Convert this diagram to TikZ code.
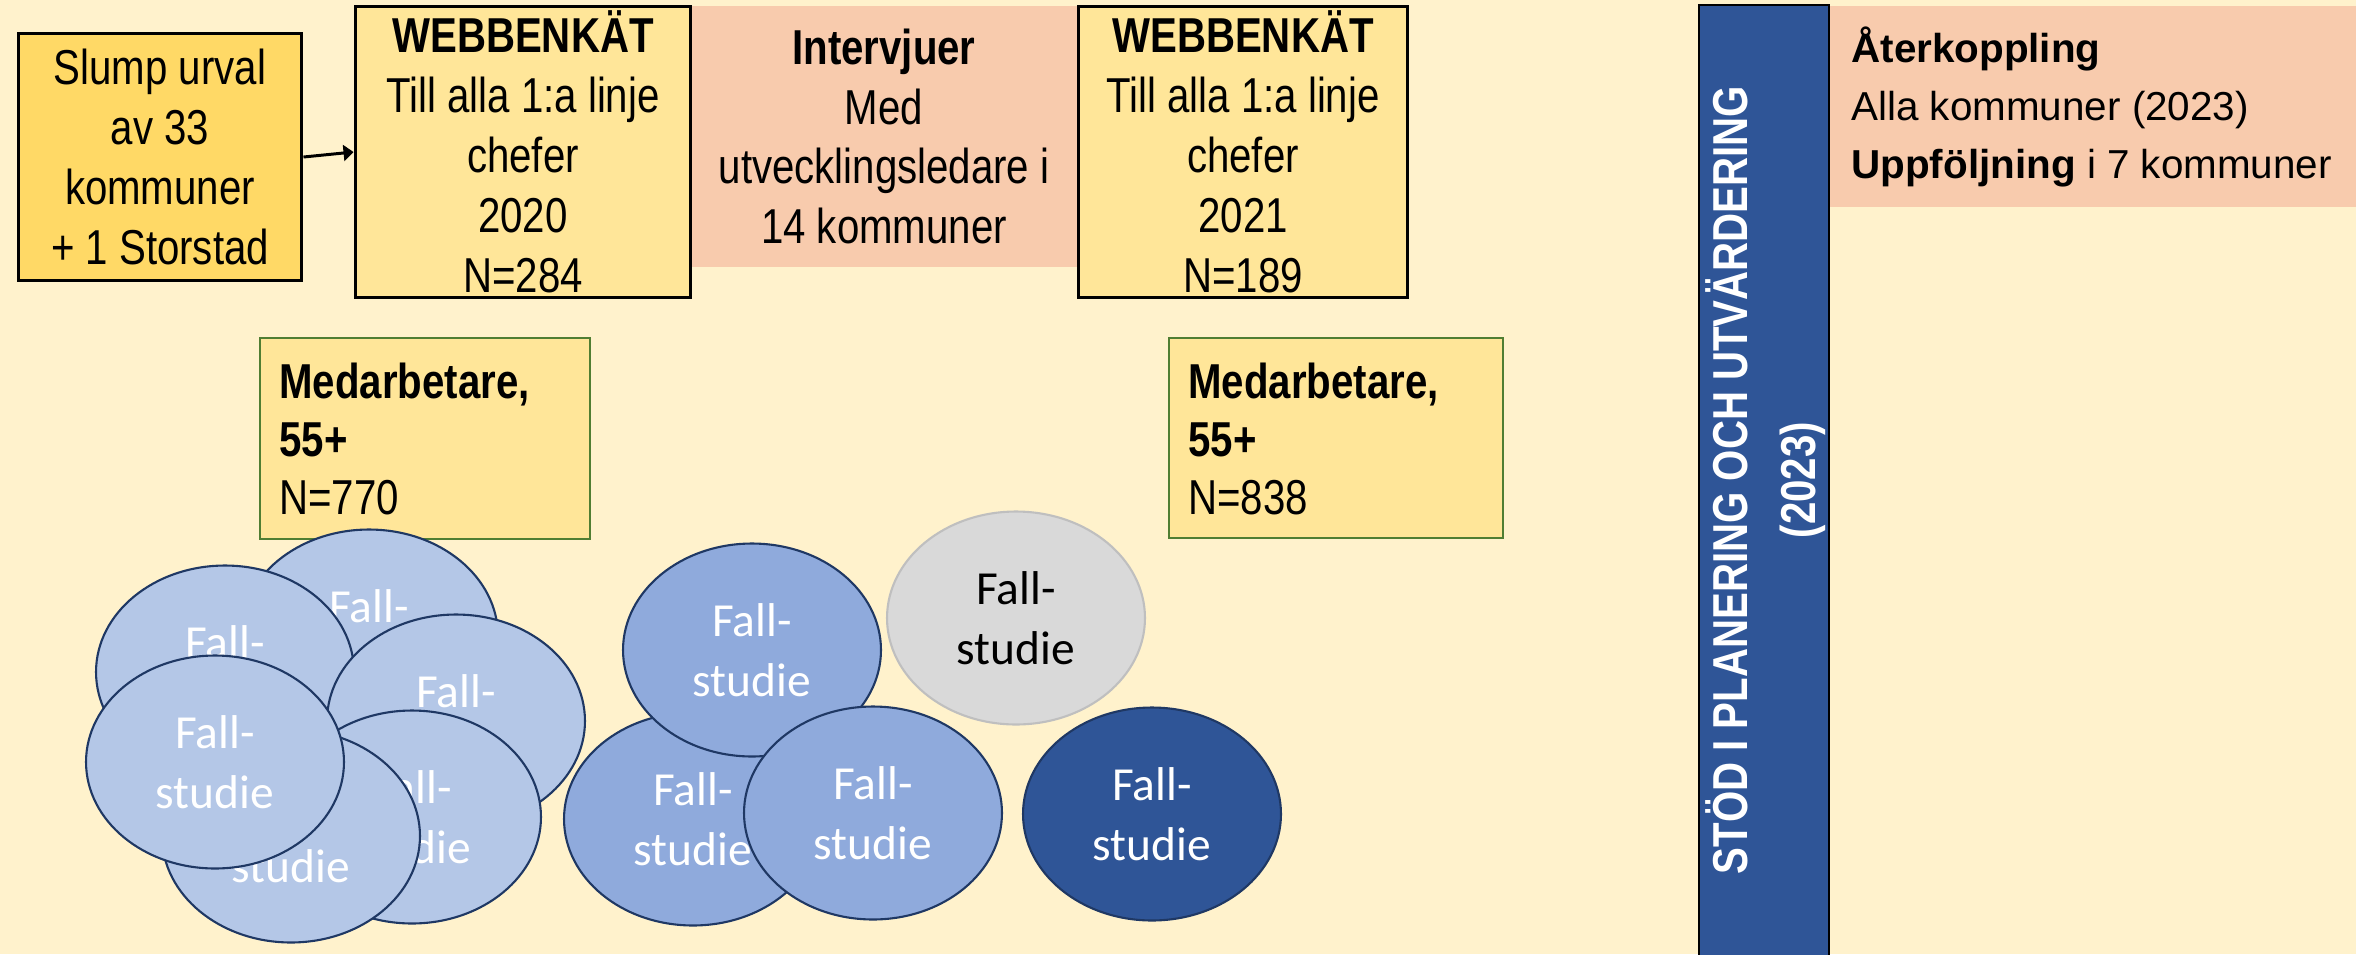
\documentclass[tikz,border=0pt]{standalone}
\usepackage{fontspec}
\setmainfont{Liberation Sans}
\newfontfamily\narrowfont[FakeStretch=0.82]{Liberation Sans}
\newfontfamily\calfont{Carlito}
\usetikzlibrary{shapes.geometric,arrows.meta}
\definecolor{bgyellow}{HTML}{FFF2CC}
\definecolor{gold}{HTML}{FFD966}
\definecolor{paleyellow}{HTML}{FFE699}
\definecolor{salmon}{HTML}{F8CBAD}
\definecolor{darkblue}{HTML}{2F5597}
\definecolor{lightblue}{HTML}{B4C7E7}
\definecolor{midblue}{HTML}{8FAADC}
\definecolor{navy}{HTML}{1F3864}
\definecolor{lightgray}{HTML}{D9D9D9}
\definecolor{midgray}{HTML}{BFBFBF}
\definecolor{olive}{HTML}{507E32}
\tikzset{
  boxtext/.style={font=\narrowfont\fontsize{27.9}{34.1}\selectfont, align=center, text=black},
  blackbox/.style={draw=black, line width=1.7pt, rectangle, inner sep=0pt, boxtext},
  salmonbox/.style={fill=salmon, draw=none, rectangle, inner sep=0pt},
  medbox/.style={fill=paleyellow, draw=olive, line width=1.1pt, rectangle, inner sep=0pt},
  medtext/.style={font=\narrowfont\fontsize{27.9}{33}\selectfont, align=left, anchor=north west, inner sep=0pt},
  fall/.style={ellipse, draw=navy, line width=1.2pt, minimum width=5.16cm, minimum height=4.26cm, inner sep=0pt,
     font=\calfont\fontsize{27}{34}\selectfont, align=center, text=white},
  fallL/.style={fall, fill=lightblue},
  fallM/.style={fall, fill=midblue},
  fallD/.style={fall, fill=darkblue},
  fallG/.style={fall, fill=lightgray, draw=midgray, text=black},
}
\begin{document}
\begin{tikzpicture}[x=0.02cm, y=-0.02cm]
\fill[bgyellow] (0,0) rectangle (2356,954);
\useasboundingbox (0,0) rectangle (2356,954);

% top row
\node[salmonbox, minimum width=7.76cm, minimum height=5.22cm, boxtext] (interv) at (884,136.5)
  {\textbf{Intervjuer}\\Med\\utvecklingsledare i\\14 kommuner};
\node[blackbox, fill=gold, minimum width=5.68cm, minimum height=4.96cm] (slump) at (160,157)
  {Slump urval\\av 33\\kommuner\\+ 1 Storstad};
\node[blackbox, fill=paleyellow, minimum width=6.72cm, minimum height=5.84cm] (webb1) at (523,152)
  {\textbf{WEBBENKÄT}\\Till alla 1:a linje\\chefer\\2020\\N=284};
\node[blackbox, fill=paleyellow, minimum width=6.6cm, minimum height=5.84cm] (webb2) at (1243,152)
  {\textbf{WEBBENKÄT}\\Till alla 1:a linje\\chefer\\2021\\N=189};
\draw[line width=1.7pt, -{Triangle[length=0.2cm, width=0.32cm]}] (slump.east) -- (webb1.west);

% feedback
\node[salmonbox, minimum width=10.54cm, minimum height=4.02cm] (aterbox) at (2092.5,106.5) {};
\node[anchor=west, align=left, inner sep=0pt, font=\fontsize{23}{33}\selectfont] (atertext) at (1851,106.5)
  {\textbf{Återkoppling}\\Alla kommuner (2023)\\\textbf{Uppföljning} i 7 kommuner};

% vertical bar
\node[rectangle, fill=darkblue, draw=black, line width=1.4pt, minimum width=2.6cm, minimum height=19.1cm, inner sep=0pt] (bar) at (1764,482.5) {};
\node[rotate=90, align=center, text=white, font=\narrowfont\bfseries\fontsize{27.9}{38.6}\selectfont, inner sep=0pt] (bartext) at (1766,480)
  {STÖD I PLANERING OCH UTVÄRDERING\\(2023)};

% Medarbetare boxes
\node[medbox, minimum width=6.6cm, minimum height=4.02cm] (med1) at (425,438.5) {};
\node[medtext] (med1t) at (279,363) {\textbf{Medarbetare,}\\\textbf{55+}\\N=770};
\node[medbox, minimum width=6.68cm, minimum height=4.0cm] (med2) at (1336,438) {};
\node[medtext] (med2t) at (1188,363) {\textbf{Medarbetare,}\\\textbf{55+}\\N=838};

% left cluster
\node[fallL] (fa) at (369,636) {Fall-\\studie};
\node[fallL] (fb) at (225,672) {Fall-\\studie};
\node[fallL] (fc) at (456,721) {Fall-\\studie};
\node[fallL] (fd) at (412,817) {Fall-\\studie};
\node[fallL] (fe) at (291,836) {Fall-\\studie};
\node[fallL] (ff) at (215,762) {Fall-\\studie};

% middle cluster
\node[fallM] (m2) at (693,819) {Fall-\\studie};
\node[fallM] (m1) at (752,650) {Fall-\\studie};
\node[fallM] (m3) at (873,813) {Fall-\\studie};

\node[fallG] (g1) at (1016,618) {Fall-\\studie};
\node[fallD] (d1) at (1152,814) {Fall-\\studie};
\end{tikzpicture}
\end{document}
